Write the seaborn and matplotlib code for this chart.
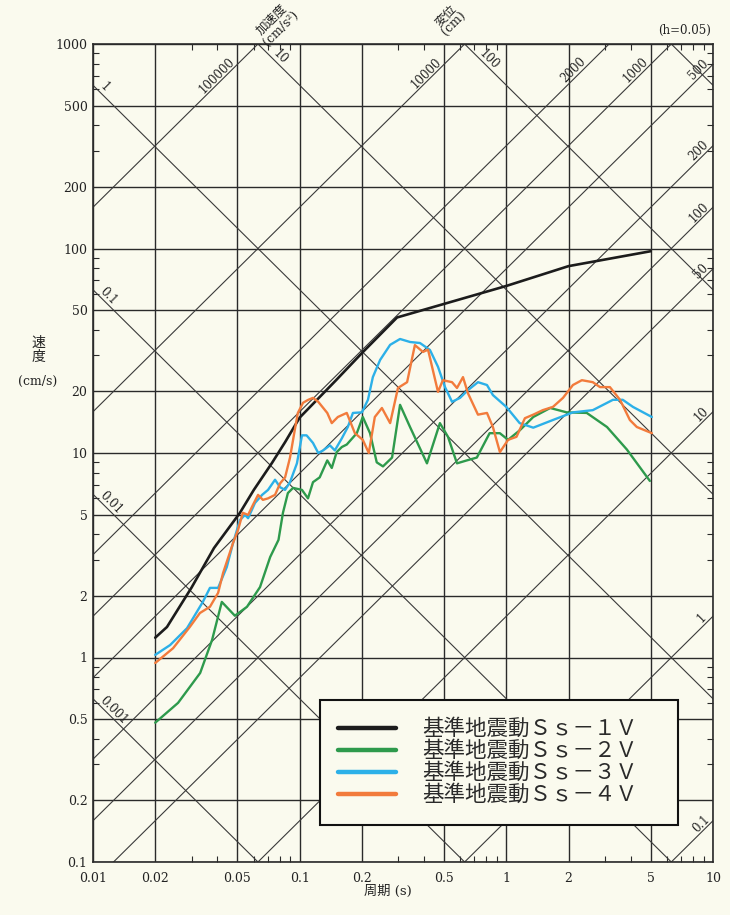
import numpy as np
import pandas as pd
import matplotlib
matplotlib.use("Agg")
import matplotlib.pyplot as plt
import seaborn as sns
from matplotlib.ticker import FixedLocator, FixedFormatter, LogLocator, NullFormatter
from matplotlib.lines import Line2D

# ---------------- data ----------------
series_names = ["基準地震動Ｓｓ－１Ｖ", "基準地震動Ｓｓ－２Ｖ", "基準地震動Ｓｓ－３Ｖ", "基準地震動Ｓｓ－４Ｖ"]
series_colors = ["#1c1c1c", "#2e9a4c", "#2cb0e8", "#f27b3c"]

ss1_T = [0.02, 0.0228, 0.03, 0.0385, 0.0514, 0.06, 0.0734, 0.085, 0.1, 0.15, 0.2, 0.296, 1.0, 2.0, 5.0]
ss1_V = [1.25, 1.41, 2.2, 3.43, 5.1, 6.6, 8.93, 11.3, 14.9, 22.7, 30.8, 46.0, 65.6, 82.0, 97.0]

ss2_T = [0.020, 0.0258, 0.033, 0.0377, 0.042, 0.0486, 0.0556, 0.0643, 0.0720, 0.0790, 0.083,
         0.0877, 0.0929, 0.1026, 0.1097, 0.116, 0.125, 0.136, 0.143, 0.151, 0.160, 0.169,
         0.189, 0.202, 0.219, 0.236, 0.253, 0.280, 0.306, 0.342, 0.413, 0.477, 0.522, 0.577,
         0.644, 0.72, 0.83, 0.93, 1.02, 1.16, 1.35, 1.63, 1.96, 2.45, 3.07, 3.83, 4.95]
ss2_V = [0.48, 0.60, 0.84, 1.22, 1.87, 1.60, 1.77, 2.21, 3.1, 3.76, 5.1,
         6.37, 6.75, 6.6, 6.0, 7.2, 7.6, 9.2, 8.45, 10.1, 10.7, 11.0,
         12.5, 15.0, 12.5, 9.0, 8.6, 9.5, 17.2, 13.4, 8.9, 14.0, 12.0, 8.9,
         9.2, 9.5, 12.5, 12.5, 11.6, 12.9, 15.0, 16.6, 15.8, 15.7, 13.4, 10.4, 7.3]

ss3_T = [0.020, 0.0236, 0.0285, 0.034, 0.0368, 0.0403, 0.0444, 0.0475, 0.0514, 0.0544, 0.0563,
         0.0608, 0.0658, 0.0703, 0.076, 0.0804, 0.085, 0.0898, 0.097, 0.1026, 0.108, 0.116,
         0.123, 0.130, 0.140, 0.148, 0.160, 0.171, 0.181, 0.200, 0.214, 0.226, 0.245, 0.274,
         0.306, 0.342, 0.382, 0.427, 0.467, 0.505, 0.546, 0.597, 0.652, 0.729, 0.806, 0.861,
         1.0, 1.16, 1.35, 1.68, 2.1, 2.62, 3.28, 3.66, 4.1, 5.06]
ss3_V = [1.03, 1.15, 1.39, 1.87, 2.19, 2.19, 2.77, 3.6, 4.7, 4.98, 4.8,
         5.7, 6.24, 6.6, 7.4, 6.8, 6.6, 7.2, 8.9, 12.2, 12.2, 11.2,
         10.0, 10.3, 10.9, 10.3, 11.8, 13.4, 15.7, 15.8, 18.2, 23.5, 28.5, 33.8,
         36.1, 34.9, 34.5, 31.9, 26.4, 21.0, 17.8, 18.6, 20.3, 22.2, 21.5, 19.2,
         16.8, 14.0, 13.3, 14.5, 15.8, 16.2, 18.2, 18.2, 16.8, 15.0]

ss4_T = [0.020, 0.0244, 0.0294, 0.0329, 0.0368, 0.0403, 0.0426, 0.0476, 0.0503, 0.0531, 0.0563,
         0.0594, 0.0629, 0.0664, 0.0703, 0.076, 0.0804, 0.085, 0.0898, 0.095, 0.098, 0.1038,
         0.110, 0.116, 0.123, 0.136, 0.143, 0.153, 0.169, 0.185, 0.202, 0.216, 0.231, 0.250,
         0.274, 0.299, 0.331, 0.361, 0.395, 0.418, 0.467, 0.493, 0.546, 0.577, 0.617, 0.652,
         0.729, 0.806, 0.861, 0.931, 1.02, 1.12, 1.23, 1.35, 1.50, 1.68, 1.88, 2.1, 2.32,
         2.62, 2.84, 3.17, 3.55, 3.96, 4.28, 5.06]
ss4_V = [0.94, 1.11, 1.41, 1.65, 1.77, 2.07, 2.59, 3.63, 4.2, 5.1, 4.98,
         5.57, 6.24, 5.9, 6.0, 6.24, 7.1, 7.6, 9.5, 13.2, 15.7, 17.6,
         18.2, 18.6, 17.8, 15.7, 14.0, 15.0, 15.7, 12.5, 11.6, 10.0, 15.0, 16.6,
         14.0, 20.8, 22.2, 33.7, 31.2, 32.0, 19.9, 22.7, 22.2, 20.8, 23.5, 19.6,
         15.4, 15.7, 13.4, 10.1, 11.6, 12.0, 14.8, 15.4, 16.2, 16.8, 18.6, 21.5, 22.7,
         22.2, 21.0, 21.0, 18.2, 14.5, 13.4, 12.5]

x_ticks = [0.01, 0.02, 0.05, 0.1, 0.2, 0.5, 1, 2, 5, 10]
x_ticklabels = ["0.01", "0.02", "0.05", "0.1", "0.2", "0.5", "1", "2", "5", "10"]
y_ticks = [0.1, 0.2, 0.5, 1, 2, 5, 10, 20, 50, 100, 200, 500, 1000]
y_ticklabels = ["0.1", "0.2", "0.5", "1", "2", "5", "10", "20", "50", "100", "200", "500", "1000"]

# tripartite diagonals
accel_values = [0.1, 1, 10, 50, 100, 200, 500, 1000, 2000, 10000, 100000]        # cm/s^2
disp_values = [0.001, 0.01, 0.1, 1, 10, 100, 1000]                             # cm
# label text, line value, anchor period
accel_labels = [("0.1", 0.1, 9.9), ("1", 1, 9.6), ("10", 10, 9.8), ("50", 50, 9.8),
                ("100", 100, 9.8), ("200", 200, 9.8), ("500", 500, 9.8),
                ("1000", 1000, 5.0), ("2000", 2000, 2.5), ("10000", 10000, 0.5),
                ("100000", 100000, 0.05)]
disp_labels = [("0.001", 0.001, 0.0105), ("0.01", 0.01, 0.0105), ("0.1", 0.1, 0.0105),
               ("1", 1, 0.0105), ("10", 10, 0.072), ("100", 100, 0.72)]

# ---------------- style ----------------
BG = "#fafaee"
sns.set_theme(style="white")
plt.rcParams["font.family"] = ["DejaVu Serif", "Noto Sans CJK JP"]
plt.rcParams["axes.facecolor"] = BG
plt.rcParams["figure.facecolor"] = BG

W, H = 730, 915
fig = plt.figure(figsize=(W / 100, H / 100), dpi=100)
ax = fig.add_axes([93 / W, 1 - 862 / H, 620 / W, 818 / H])
ax.set_xscale("log")
ax.set_yscale("log")

GRID = "#2a2a2a"
TWO_PI = 2 * np.pi
Tline = np.array([1e-3, 1e2])
for A in accel_values:
    ax.plot(Tline, A * Tline / TWO_PI, color="#3a3a3a", lw=0.8, zorder=1)
for D in disp_values:
    ax.plot(Tline, TWO_PI * D / Tline, color="#3a3a3a", lw=0.8, zorder=1)

# data curves
all_T = [ss1_T, ss2_T, ss3_T, ss4_T]
all_V = [ss1_V, ss2_V, ss3_V, ss4_V]
frames = []
for name, T, V in zip(series_names, all_T, all_V):
    frames.append(pd.DataFrame({"T": T, "V": V, "series": name}))
df = pd.concat(frames, ignore_index=True)
for name, col, lw in zip(series_names, series_colors, [1.9, 1.7, 1.7, 1.7]):
    sub = df[df["series"] == name]
    sns.lineplot(data=sub, x="T", y="V", color=col, lw=lw, estimator=None, sort=False,
                 ax=ax, zorder=3)

ax.set_xlim(0.01, 10)
ax.set_ylim(0.1, 1000)
ax.set_xlabel("")
ax.set_ylabel("")

ax.xaxis.set_major_locator(FixedLocator(x_ticks))
ax.xaxis.set_major_formatter(FixedFormatter(x_ticklabels))
ax.yaxis.set_major_locator(FixedLocator(y_ticks))
ax.yaxis.set_major_formatter(FixedFormatter(y_ticklabels))
ax.xaxis.set_minor_locator(LogLocator(base=10, subs=np.arange(2, 10)))
ax.yaxis.set_minor_locator(LogLocator(base=10, subs=np.arange(2, 10)))
ax.xaxis.set_minor_formatter(NullFormatter())
ax.yaxis.set_minor_formatter(NullFormatter())
ax.tick_params(which="major", length=0, labelsize=9, colors="#222222")
ax.tick_params(axis="x", which="major", pad=7)
ax.tick_params(axis="y", which="major", pad=4)
ax.tick_params(which="minor", direction="in", length=4, width=0.8, color=GRID,
               top=True, right=True, bottom=True, left=True)
ax.grid(True, which="major", color=GRID, lw=1.0)
ax.grid(False, which="minor")
for sp in ax.spines.values():
    sp.set_color(GRID)
    sp.set_linewidth(1.2)

# diagonal labels
for txt, A, T in accel_labels:
    ax.text(T, A * T / TWO_PI, txt, rotation=45, rotation_mode="anchor",
            ha="right", va="bottom", fontsize=8.5, color="#222222", zorder=2)
for txt, D, T in disp_labels:
    ax.text(T, TWO_PI * D / T, txt, rotation=-45, rotation_mode="anchor",
            ha="left", va="bottom", fontsize=8.5, color="#222222", zorder=2)

# annotations outside axes
fig.text(276 / W, 1 - 24 / H, "加速度\n(cm/s²)", rotation=45, ha="center", va="center",
         multialignment="center", fontsize=9, linespacing=0.95, color="#222222")
fig.text(450 / W, 1 - 20 / H, "変位\n(cm)", rotation=45, ha="center", va="center",
         multialignment="center", fontsize=9, linespacing=0.95, color="#222222")
fig.text(711 / W, 1 - 30 / H, "(h=0.05)", ha="right", va="center", fontsize=8.5,
         color="#222222")
fig.text(38 / W, 1 - 350 / H, "速\n度", ha="center", va="center", fontsize=10,
         linespacing=0.95, color="#222222")
fig.text(38 / W, 1 - 381 / H, "(cm/s)", ha="center", va="center", fontsize=9,
         color="#222222")
fig.text(388 / W, 1 - 891 / H, "周期 (s)", ha="center", va="center", fontsize=9.5,
         color="#222222")

# legend
handles = [Line2D([0], [0], color=c, lw=3.2) for c in series_colors]
leg = ax.legend(handles, series_names, loc="upper left",
                bbox_to_anchor=(227 / 620, 0.0, 358 / 620, 162 / 818), mode="expand",
                borderaxespad=0, borderpad=0.85, handlelength=2.67, handletextpad=1.25,
                labelspacing=0.0, fancybox=False, framealpha=1, facecolor=BG,
                edgecolor="#111111", prop={"family": ["Noto Sans CJK JP"], "size": 15.5})
leg.get_frame().set_linewidth(1.5)
leg.set_zorder(5)
for t in leg.get_texts():
    t.set_color("#2a2a2a")

fig.savefig("out.png", dpi=100, facecolor=BG)
